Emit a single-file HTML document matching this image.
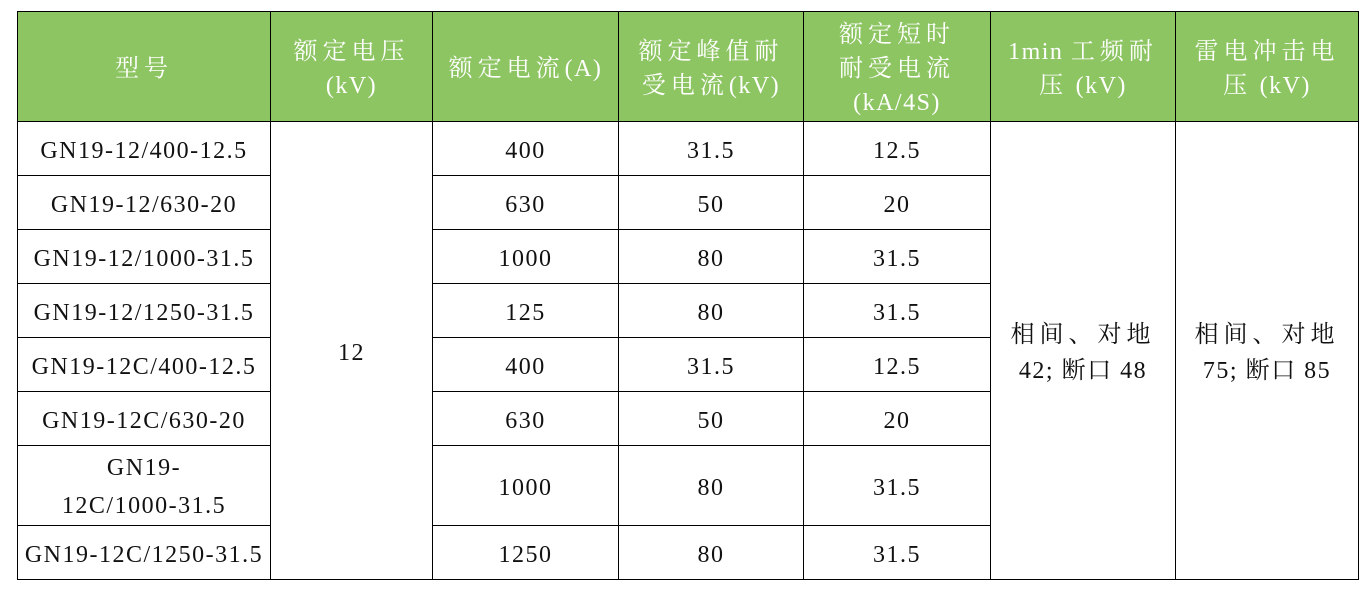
<!DOCTYPE html>
<html><head><meta charset="utf-8"><style>
body{margin:0;background:#fff;width:1366px;height:590px;overflow:hidden}
table{position:absolute;left:17px;top:11px;border-collapse:collapse;table-layout:fixed;
font-family:"Liberation Serif","Noto Serif CJK SC",serif;font-size:24px;color:#111;letter-spacing:1.5px}
td,th{border:1.5px solid #000;text-align:center;vertical-align:middle;padding:4px 0 0 0;line-height:36px}
th{background:#8dc563;color:#fff;font-weight:normal;height:105px;font-size:24px;line-height:34px}
td{height:49px}
.c{letter-spacing:5px}
</style></head><body>
<table>
<colgroup><col style="width:253px"><col style="width:162px"><col style="width:186px"><col style="width:185px"><col style="width:187px"><col style="width:185px"><col style="width:183px"></colgroup>
<tr><th><span class="c">型号</span></th><th><span class="c">额定电压</span><br>(kV)</th><th><span class="c">额定电流</span>(A)</th><th><span class="c">额定峰值耐</span><br><span class="c">受电流</span>(kV)</th><th><span class="c">额定短时</span><br><span class="c">耐受电流</span><br>(kA/4S)</th><th>1min <span class="c">工频耐</span><br><span class="c">压</span> (kV)</th><th><span class="c">雷电冲击电</span><br><span class="c">压</span> (kV)</th></tr>
<tr><td>GN19-12/400-12.5</td><td rowspan="8">12</td><td>400</td><td>31.5</td><td>12.5</td><td rowspan="8"><span class="c">相间、对地</span><br>42; 断口 48</td><td rowspan="8"><span class="c">相间、对地</span><br>75; 断口 85</td></tr>
<tr><td>GN19-12/630-20</td><td>630</td><td>50</td><td>20</td></tr>
<tr><td>GN19-12/1000-31.5</td><td>1000</td><td>80</td><td>31.5</td></tr>
<tr><td>GN19-12/1250-31.5</td><td>125</td><td>80</td><td>31.5</td></tr>
<tr><td>GN19-12C/400-12.5</td><td>400</td><td>31.5</td><td>12.5</td></tr>
<tr><td>GN19-12C/630-20</td><td>630</td><td>50</td><td>20</td></tr>
<tr><td style="height:76px;line-height:38px;padding-top:3px">GN19-<br>12C/1000-31.5</td><td>1000</td><td>80</td><td>31.5</td></tr>
<tr><td>GN19-12C/1250-31.5</td><td>1250</td><td>80</td><td>31.5</td></tr>
</table>
</body></html>
